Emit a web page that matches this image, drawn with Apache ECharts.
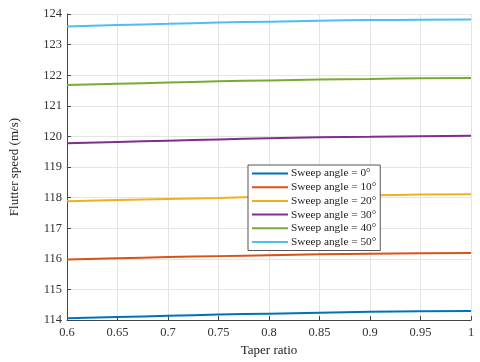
<!DOCTYPE html>
<html>
<head>
<meta charset="utf-8">
<script src="https://cdn.jsdelivr.net/npm/echarts@6/dist/echarts.min.js"></script>
<style>
  html, body { margin: 0; padding: 0; background: #fff; }
  #chart { width: 480px; height: 362px; }
</style>
</head>
<body>
<div id="chart"></div>
<script>
const taperRatio = [0.6, 0.65, 0.7, 0.75, 0.8, 0.85, 0.9, 0.95, 1.0];

const sweep0 = [114.06, 114.10, 114.14, 114.18, 114.21, 114.24, 114.27, 114.29, 114.30];
const sweep10 = [115.98, 116.02, 116.06, 116.09, 116.12, 116.15, 116.17, 116.18, 116.19];
const sweep20 = [117.88, 117.92, 117.96, 117.99, 118.03, 118.06, 118.08, 118.10, 118.11];
const sweep30 = [119.78, 119.82, 119.86, 119.90, 119.94, 119.97, 119.99, 120.01, 120.02];
const sweep40 = [121.68, 121.72, 121.76, 121.80, 121.83, 121.86, 121.88, 121.90, 121.91];
const sweep50 = [123.59, 123.64, 123.68, 123.72, 123.75, 123.78, 123.80, 123.81, 123.82];

const seriesNames = [
	"Sweep angle = 0°",
	"Sweep angle = 10°",
	"Sweep angle = 20°",
	"Sweep angle = 30°",
	"Sweep angle = 40°",
	"Sweep angle = 50°",
];
const seriesData = [sweep0, sweep10, sweep20, sweep30, sweep40, sweep50];
const colors = ["#0072BD", "#D95319", "#EDB120", "#7E2F8E", "#77AC30", "#4DBEEE"];

const font = "'Liberation Serif', 'Times New Roman', serif";
const chart = echarts.init(document.getElementById("chart"));

const option = {
	animation: false,
	color: colors,
	grid: { left: 66, right: 9, top: 14, bottom: 39 },
	legend: {
		orient: "vertical",
		left: 248,
		top: 165,
		padding: [3, 4, 3, 4],
		itemWidth: 36,
		itemHeight: 10,
		itemGap: 2.7,
		backgroundColor: "#fff",
		borderColor: "#555",
		borderWidth: 1,
		icon: "path://M0,4 L36,4 L36,6 L0,6 Z",
		textStyle: {
			fontFamily: font,
			fontSize: 11.3,
			lineHeight: 10,
			color: "#222",
			padding: [0, 0, 0, -2],
		},
		data: seriesNames,
	},
	xAxis: {
		type: "value",
		min: 0.6,
		max: 1,
		interval: 0.05,
		name: "Taper ratio",
		nameLocation: "middle",
		nameGap: 23,
		nameTextStyle: { fontFamily: font, fontSize: 13, color: "#222" },
		axisLine: { onZero: false, lineStyle: { color: "#444" } },
		axisTick: { inside: true, length: 4, lineStyle: { color: "#444" } },
		axisLabel: {
			fontFamily: font,
			fontSize: 12.5,
			color: "#333",
			margin: 6,
			formatter: (v) => String(Math.round(v * 100) / 100),
		},
		splitLine: { show: true, lineStyle: { color: "#e4e4e4" } },
	},
	yAxis: {
		type: "value",
		min: 114,
		max: 124,
		interval: 1,
		name: "Flutter speed (m/s)",
		nameLocation: "middle",
		nameGap: 46,
		nameTextStyle: { fontFamily: font, fontSize: 13, color: "#222" },
		axisLine: { show: true, lineStyle: { color: "#444" } },
		axisTick: { show: true, inside: true, length: 4, lineStyle: { color: "#444" } },
		axisLabel: { fontFamily: font, fontSize: 12.5, color: "#333", margin: 5 },
		splitLine: { show: true, lineStyle: { color: "#e4e4e4" } },
	},
	series: seriesNames.map((name, i) => ({
		name: name,
		type: "line",
		smooth: true,
		showSymbol: false,
		lineStyle: { width: 2 },
		data: taperRatio.map((x, k) => [x, seriesData[i][k]]),
	})),
};

chart.setOption(option);
</script>
</body>
</html>
